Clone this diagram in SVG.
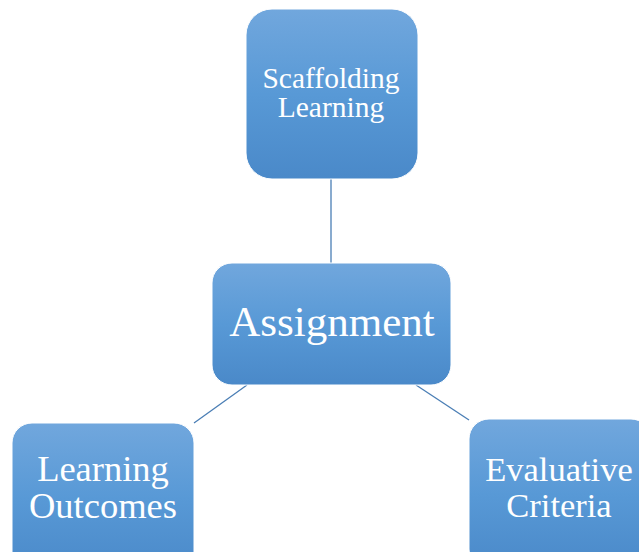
<svg xmlns="http://www.w3.org/2000/svg" width="639" height="552" viewBox="0 0 639 552">
<defs>
<linearGradient id="g" x1="0" y1="0" x2="0" y2="1">
<stop offset="0" stop-color="#71a7dd"/>
<stop offset="0.5" stop-color="#5899d6"/>
<stop offset="1" stop-color="#4a89c9"/>
</linearGradient>
<style>
.box{fill:url(#g);stroke:#ffffff;stroke-width:1}
.t{fill:#ffffff;font-family:"Liberation Serif","Times New Roman",serif;text-anchor:middle}
.c{stroke:#4a7eb5;stroke-width:1.3;fill:none}
</style>
</defs>
<rect width="639" height="552" fill="#ffffff"/>
<g id="connectors">
<line class="c" x1="331" y1="179" x2="331" y2="263"/>
<line class="c" x1="247" y1="385" x2="194" y2="423"/>
<line class="c" x1="416" y1="385" x2="469" y2="420"/>
</g>
<g id="scaffolding">
<rect class="box" x="246" y="9" width="172" height="170" rx="26"/>
<text class="t" x="331" y="88" font-size="29.5">Scaffolding</text>
<text class="t" x="331" y="117" font-size="29.5">Learning</text>
</g>
<g id="assignment">
<rect class="box" x="212" y="263" width="239" height="122" rx="20"/>
<text class="t" x="332" y="336" font-size="43">Assignment</text>
</g>
<g id="outcomes">
<rect class="box" x="12" y="423" width="182" height="150" rx="20"/>
<text class="t" x="103" y="481" font-size="36.5">Learning</text>
<text class="t" x="103" y="518" font-size="36.5">Outcomes</text>
</g>
<g id="criteria">
<rect class="box" x="469" y="419" width="182" height="150" rx="20"/>
<text class="t" x="559" y="481" font-size="34.5">Evaluative</text>
<text class="t" x="559" y="517" font-size="34.5">Criteria</text>
</g>
</svg>
